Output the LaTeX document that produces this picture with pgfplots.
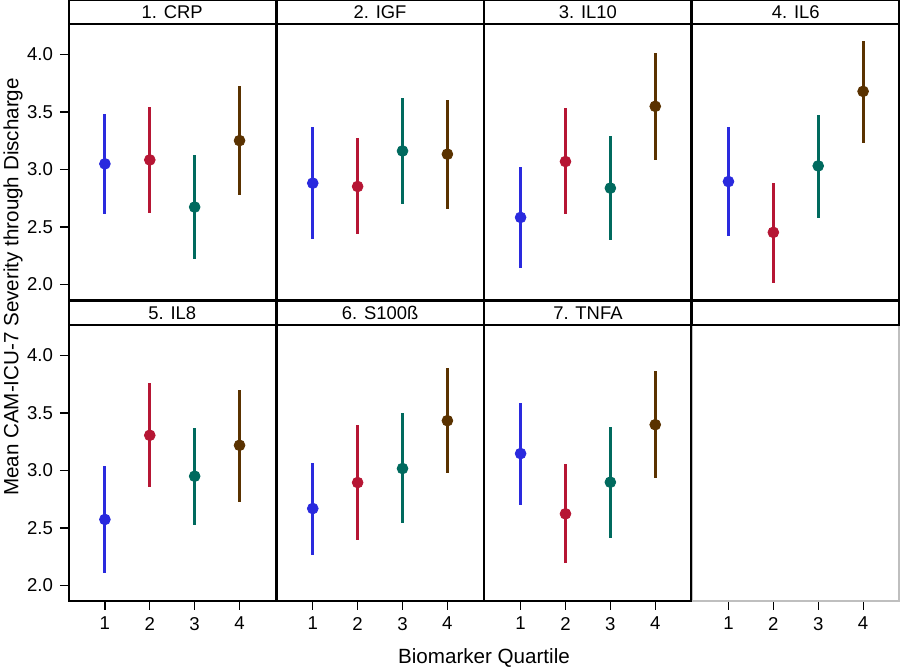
\documentclass[border=0pt]{standalone}
\usepackage{fontspec}
\setmainfont{Liberation Sans}
\usepackage{pgfplots}
\usepackage{pgfplotstable}
\pgfplotsset{compat=1.18}

\definecolor{qone}{RGB}{42,42,222}
\definecolor{qtwo}{RGB}{182,22,52}
\definecolor{qthree}{RGB}{0,106,94}
\definecolor{qfour}{RGB}{90,50,0}

% quartile, mean, lower and upper limit
\pgfplotstableread{
q m lo hi
1 3.049 2.612 3.482
2 3.083 2.621 3.543
3 2.673 2.219 3.129
4 3.251 2.774 3.725
}\crp
\pgfplotstableread{
q m lo hi
1 2.881 2.396 3.367
2 2.852 2.436 3.271
3 3.161 2.704 3.618
4 3.133 2.658 3.601
}\igf
\pgfplotstableread{
q m lo hi
1 2.583 2.147 3.020
2 3.069 2.609 3.532
3 2.838 2.389 3.289
4 3.549 3.086 4.014
}\ilten
\pgfplotstableread{
q m lo hi
1 2.895 2.424 3.367
2 2.453 2.014 2.884
3 3.031 2.580 3.471
4 3.679 3.231 4.118
}\ilsix
\pgfplotstableread{
q m lo hi
1 2.574 2.108 3.037
2 3.306 2.858 3.757
3 2.950 2.524 3.372
4 3.219 2.730 3.702
}\ileight
\pgfplotstableread{
q m lo hi
1 2.669 2.267 3.066
2 2.895 2.392 3.398
3 3.017 2.539 3.497
4 3.433 2.976 3.891
}\sbeta
\pgfplotstableread{
q m lo hi
1 3.147 2.698 3.589
2 2.623 2.194 3.057
3 2.898 2.411 3.375
4 3.398 2.936 3.865
}\tnfa

\pgfplotsset{
  q1/.style={qone}, q2/.style={qtwo}, q3/.style={qthree}, q4/.style={qfour},
  panel/.style={
    scale only axis, width=103.225pt, height=138pt, anchor=north west,
    xmin=0.2, xmax=4.8, ymin=1.865, ymax=4.265,
    xtick={1,2,3,4}, ytick={2,2.5,3,3.5,4},
    tick align=outside, tick pos=left, major tick length=4.5pt,
    axis line style={line width=0.7pt, black},
    tick style={line width=0.6pt, black},
    /pgf/number format/assume math mode=true,
    tick label style={font=\fontsize{9.3}{11}\selectfont},
    yticklabel style={/pgf/number format/.cd, fixed, fixed zerofill, precision=1},
    clip=false,
  },
  norow/.style={xmajorticks=false},
  nocol/.style={ymajorticks=false},
}

\newcommand{\strip}[1]{%
  \draw[line width=0.7pt, black] (rel axis cs:0,1) rectangle ([yshift=12pt]rel axis cs:1,1);
  \node[font=\fontsize{9.2}{11}\selectfont, anchor=center] at ([yshift=6pt]rel axis cs:0.5,1) {#1};}

\newcommand{\panel}[5]{%
  \begin{axis}[panel, at={(#1,#2)}, #5]
    \pgfplotsinvokeforeach{1,...,4}{%
      \addplot[q##1, mark=*, mark size=2.7pt, only marks,
        error bars/.cd, y dir=both, y explicit, error mark=none,
        error bar style={line width=1.5pt, q##1}]
        table[x=q, y=m,
          y error plus expr=\thisrow{hi}-\thisrow{m},
          y error minus expr=\thisrow{m}-\thisrow{lo},
          restrict expr to domain={\thisrow{q}}{##1:##1}] {#4};
    }
    \strip{#3}
  \end{axis}}

\begin{document}
\begin{tikzpicture}
\useasboundingbox (0pt,0pt) rectangle (450pt,-333.5pt);
\panel{34.5pt}{-12pt}{1. CRP}{\crp}{norow}
\panel{138.425pt}{-12pt}{2. IGF}{\igf}{norow, nocol}
\panel{242.35pt}{-12pt}{3. IL10}{\ilten}{norow, nocol}
\panel{346.275pt}{-12pt}{4. IL6}{\ilsix}{norow, nocol}
\panel{34.5pt}{-162.5pt}{5. IL8}{\ileight}{}
\panel{138.425pt}{-162.5pt}{6. S100ß}{\sbeta}{nocol}
\panel{242.35pt}{-162.5pt}{7. TNFA}{\tnfa}{nocol}
\begin{axis}[panel, at={(346.275pt,-162.5pt)}, nocol, axis line style={line width=0.7pt, black!25}]
  \strip{}
\end{axis}
\node[font=\fontsize{10.3}{12}\selectfont] at (242pt,-329pt) {Biomarker Quartile};
\node[font=\fontsize{10.3}{12}\selectfont, rotate=90] at (6.5pt,-143.5pt) {Mean CAM-ICU-7 Severity through Discharge};
\end{tikzpicture}
\end{document}
